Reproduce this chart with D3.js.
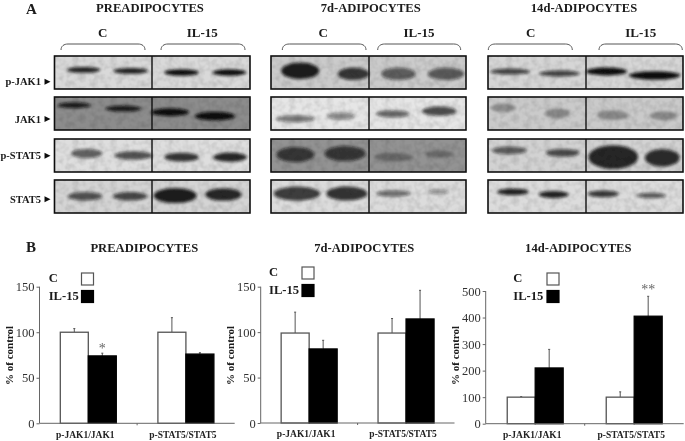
<!DOCTYPE html>
<html>
<head>
<meta charset="utf-8">
<script src="https://cdn.jsdelivr.net/npm/d3@7"></script>
<style>
  html, body { margin: 0; padding: 0; background: #fff; }
  svg { display: block; }
  text { font-family: "Liberation Serif", serif; }
  .head { font-weight: bold; fill: #1a1a1a; }
  .tick text { font-family: "Liberation Serif", serif; }
</style>
</head>
<body>
<svg id="chart" width="685" height="441"></svg>
<script>
// --- panel B values
const groups = ['p-JAK1/JAK1', 'p-STAT5/STAT5'];
const series = ['C', 'IL-15'];
const preValues = [[100, 74], [100, 76]];
const preErrors = [[104, 77], [116, 77.5]];
const d7Values = [[99, 81.5], [99, 114.5]];
const d7Errors = [[122, 91], [115, 146]];
const d14Values = [[100, 210], [100, 405]];
const d14Errors = [[102, 280], [120, 480]];

// --- panel A blots, one list per row: [lane x, band y, half width, half height, darkness], in % of the blot
const rowNames = ['p-JAK1', 'JAK1', 'p-STAT5', 'STAT5'];
const preBackgrounds = ['#d9d9d9', '#8c8c8c', '#dedede', '#d4d4d4'];
const d7Backgrounds = ['#cbcbcb', '#e6e6e6', '#939393', '#dcdcdc'];
const d14Backgrounds = ['#d6d6d6', '#cacaca', '#d2d2d2', '#dcdcdc'];
const preBands = [
  [[14.8, 42, 8.6, 9, .9], [39, 45, 8.9, 9, .9], [65, 50, 8.9, 10, 1], [89.4, 50, 8.6, 10, 1]],
  [[10, 25, 8.6, 9, .9], [35.3, 35, 9.3, 9, .9], [59.1, 46, 9.8, 12, 1], [82.1, 58, 10.3, 13, 1]],
  [[16.5, 44, 8, 14, .62], [40.4, 50, 9.8, 13, .68], [65, 55, 8.9, 13, .82], [89.8, 55, 8.6, 14, .88]],
  [[15.7, 49, 8.9, 13, .68], [38.7, 49, 8.9, 13, .72], [61.7, 47, 11, 23, .92], [86.4, 44, 9.3, 19, .88]]
];
const d7Bands = [
  [[15, 45, 9.8, 25, .92], [42.3, 54, 8.1, 19, .8], [65.4, 54, 8.9, 19, .6], [89.8, 54, 9.3, 19, .62]],
  [[12.5, 66, 9.8, 11, .52], [35.8, 58, 7.2, 11, .44], [62.5, 51, 8.6, 11, .6], [86.3, 43, 8.9, 14, .72]],
  [[12.5, 47, 9.8, 23, .72], [38, 44, 10.6, 23, .72], [62.8, 55, 9.8, 13, .3], [86.3, 46, 7.2, 11, .3]],
  [[13.3, 41, 12, 21, .78], [38.9, 41, 10.6, 21, .82], [62.8, 41, 8.9, 10, .55], [85.8, 36, 5.5, 8, .35]]
];
const d14Bands = [
  [[11.4, 47, 10.3, 9, .75], [36.6, 53, 10.6, 9, .75], [60.8, 47, 10.6, 12, 1], [85.5, 59, 13.2, 13, 1]],
  [[8, 33, 6.4, 13, .3], [35.6, 50, 6.4, 15, .32], [63.9, 55, 8.1, 15, .32], [90.1, 57, 7.2, 14, .32]],
  [[11, 35, 8.9, 12, .62], [38.3, 42, 8.6, 12, .7], [64.2, 55, 12.7, 36, .88], [89.4, 57, 8.9, 27, .85]],
  [[12.8, 36, 8.1, 10, .9], [33.6, 44, 7.6, 11, .9], [59.1, 42, 8.1, 10, .8], [83.8, 47, 7.6, 8, .65]]
];

const svg = d3.select('#chart');
const defs = svg.append('defs');

defs.append('filter').attr('id', 'soft').attr('x', '-40%').attr('y', '-120%').attr('width', '180%').attr('height', '340%')
  .append('feGaussianBlur').attr('stdDeviation', 1.8);
defs.append('filter').attr('id', 'print')
  .attr('filterUnits', 'userSpaceOnUse').attr('x', 0).attr('y', 0).attr('width', 685).attr('height', 441)
  .append('feGaussianBlur').attr('stdDeviation', 0.4);
let grain = defs.append('filter').attr('id', 'grain');
grain.append('feTurbulence').attr('type', 'fractalNoise').attr('baseFrequency', 0.16).attr('numOctaves', 2).attr('seed', 4);
grain.append('feColorMatrix').attr('values', '0 0 0 0 0  0 0 0 0 0  0 0 0 0 0  0.22 0 0 0 -0.08');
grain.append('feComposite').attr('in2', 'SourceAlpha').attr('operator', 'in');

const root = svg.append('g').attr('filter', 'url(#print)');

const rowTops = [56, 97, 139, 180];
const rowHeight = 33;

function blotSet(cfg) {
  let g = root.append('g');
  let sx = d3.scaleLinear().domain([0, 100]).range([0, cfg.width]);
  let sy = d3.scaleLinear().domain([0, 100]).range([0, rowHeight]);

  g.append('text').attr('class', 'head').attr('x', cfg.titleX).attr('y', 12)
    .attr('text-anchor', 'middle').style('font-size', '12.6px').text(cfg.title);

  series.forEach((s, i) => {
    g.append('text').attr('class', 'head').attr('x', cfg.headX[i]).attr('y', 37)
      .attr('text-anchor', 'middle').style('font-size', '13px').text(s);
    let [a, b] = cfg.brace[i];
    g.append('path').attr('fill', 'none').attr('stroke', '#444').attr('stroke-width', 0.9)
      .attr('d', `M${a},50 C${a},46 ${a + 3},44 ${a + 7},44 L${b - 7},44 C${b - 3},44 ${b},46 ${b},50`);
  });

  rowNames.forEach((name, r) => {
    let row = g.append('g').attr('transform', `translate(${cfg.x},${rowTops[r]})`);
    let clipId = `${cfg.id}-clip-${r}`;
    defs.append('clipPath').attr('id', clipId)
      .append('rect').attr('width', cfg.width).attr('height', rowHeight);
    let inner = row.append('g').attr('clip-path', `url(#${clipId})`);
    inner.append('rect').attr('width', cfg.width).attr('height', rowHeight).attr('fill', cfg.backgrounds[r]);
    inner.selectAll('ellipse').data(cfg.bands[r]).join('ellipse')
      .attr('cx', d => sx(d[0]))
      .attr('cy', d => sy(d[1]))
      .attr('rx', d => sx(d[2]))
      .attr('ry', d => sy(d[3]))
      .attr('fill', '#111')
      .attr('fill-opacity', d => d[4])
      .attr('filter', 'url(#soft)');
    inner.append('rect').attr('width', cfg.width).attr('height', rowHeight)
      .attr('fill', '#000').attr('filter', 'url(#grain)');
    row.append('rect').attr('width', cfg.width).attr('height', rowHeight)
      .attr('fill', 'none').attr('stroke', '#111').attr('stroke-width', 1.6);
    row.append('line').attr('x1', cfg.divider).attr('x2', cfg.divider)
      .attr('y1', 0).attr('y2', rowHeight).attr('stroke', '#111').attr('stroke-width', 1.4);
  });
}

blotSet({id: 'pre', title: 'PREADIPOCYTES', titleX: 150, x: 54.5, width: 195.5, divider: 97.5,
  headX: [102.7, 202.3], brace: [[61, 145], [161, 245]], backgrounds: preBackgrounds, bands: preBands});
blotSet({id: 'd7', title: '7d-ADIPOCYTES', titleX: 370.7, x: 271, width: 195, divider: 98,
  headX: [323.3, 419], brace: [[282.3, 366], [377.7, 460.7]], backgrounds: d7Backgrounds, bands: d7Bands});
blotSet({id: 'd14', title: '14d-ADIPOCYTES', titleX: 584, x: 488, width: 195, divider: 98,
  headX: [530.7, 640.7], brace: [[488.3, 572.3], [599, 682.3]], backgrounds: d14Backgrounds, bands: d14Bands});

// row labels with the little arrows
const rowLabelY = [81.7, 119, 155.7, 199.3];
rowNames.forEach((name, r) => {
  root.append('text').attr('class', 'head').attr('x', 41).attr('y', rowLabelY[r]).attr('dy', '0.35em')
    .attr('text-anchor', 'end').style('font-size', '10.5px').text(name);
  root.append('path').attr('fill', '#111')
    .attr('d', `M44.5,${rowLabelY[r] - 3}L50.5,${rowLabelY[r]}L44.5,${rowLabelY[r] + 3}Z`);
});

root.append('text').attr('class', 'head').attr('x', 26).attr('y', 14).style('font-size', '15px').text('A');
root.append('text').attr('class', 'head').attr('x', 26).attr('y', 251.5).style('font-size', '15px').text('B');

function barChart(cfg) {
  let g = root.append('g');
  let y = d3.scaleLinear().domain([0, cfg.max]).range([cfg.y0, cfg.y1]);
  let x0 = d3.scaleBand().domain(groups).range([cfg.x, cfg.x + cfg.step * 2]);
  let x1 = d3.scaleBand().domain(series).range([0, x0.bandwidth()])
    .paddingInner(0).paddingOuter(cfg.outer);

  g.append('text').attr('class', 'head').attr('x', cfg.titleX).attr('y', 251.5)
    .attr('text-anchor', 'middle').style('font-size', '12.6px').text(cfg.title);

  groups.forEach((name, i) => {
    let col = g.append('g').attr('transform', `translate(${x0(name)},0)`);
    let rows = series.map((s, j) => ({s: s, v: cfg.values[i][j], e: cfg.errors[i][j]}));
    col.selectAll('line.err').data(rows).join('line').attr('class', 'err')
      .attr('x1', d => x1(d.s) + x1.bandwidth() / 2)
      .attr('x2', d => x1(d.s) + x1.bandwidth() / 2)
      .attr('y1', d => y(d.v)).attr('y2', d => y(d.e))
      .attr('stroke', '#555').attr('stroke-width', 1);
    col.selectAll('line.cap').data(rows).join('line').attr('class', 'cap')
      .attr('x1', d => x1(d.s) + x1.bandwidth() / 2 - 1)
      .attr('x2', d => x1(d.s) + x1.bandwidth() / 2 + 1)
      .attr('y1', d => y(d.e)).attr('y2', d => y(d.e))
      .attr('stroke', '#555').attr('stroke-width', 1);
    col.selectAll('rect').data(rows).join('rect')
      .attr('x', d => x1(d.s))
      .attr('y', d => y(d.v))
      .attr('width', x1.bandwidth())
      .attr('height', d => y(0) - y(d.v))
      .attr('fill', d => d.s === 'C' ? '#fff' : '#000')
      .attr('stroke', d => d.s === 'C' ? '#555' : '#000')
      .attr('stroke-width', 1.3);
  });

  let yAxis = g.append('g').attr('transform', `translate(${cfg.x},0)`)
    .call(d3.axisLeft(y).tickValues(cfg.ticks).tickSize(3).tickPadding(2));
  yAxis.selectAll('path,line').attr('stroke', '#666').attr('stroke-width', 1);
  yAxis.selectAll('text').attr('fill', '#333').style('font-size', '12.5px');
  yAxis.select('.domain').attr('d', `M0,${y(0)}V${y(cfg.max)}`);

  let xAxis = g.append('g').attr('transform', `translate(0,${cfg.y0})`)
    .call(d3.axisBottom(x0).tickSize(0).tickPadding(0));
  xAxis.select('.domain').attr('stroke', '#666').attr('stroke-width', 1)
    .attr('d', `M${cfg.x},0H${cfg.x + cfg.step * 2}`);
  xAxis.selectAll('text').attr('fill', '#222').attr('dx', -3).attr('y', 7.5)
    .style('font-size', '9.5px').style('font-weight', 'bold');
  g.append('line').attr('x1', cfg.x + cfg.step).attr('x2', cfg.x + cfg.step)
    .attr('y1', cfg.y0).attr('y2', cfg.y0 + 2).attr('stroke', '#666');

  g.append('text').attr('class', 'head')
    .attr('transform', `translate(${cfg.labelX},355.5) rotate(-90)`)
    .attr('text-anchor', 'middle').style('font-size', '11px').text('% of control');

  // significance stars
  g.selectAll('text.star').data(cfg.stars).join('text').attr('class', 'star')
    .attr('x', d => x0(groups[d[0]]) + x1(series[d[1]]) + x1.bandwidth() / 2)
    .attr('y', d => y(cfg.errors[d[0]][d[1]]) + cfg.starDy)
    .attr('text-anchor', 'middle').attr('fill', '#666').style('font-size', '14px')
    .text(d => d[2]);

  // legend
  series.forEach((s, i) => {
    g.append('text').attr('class', 'head').attr('x', cfg.legendX).attr('y', cfg.legendY + 9 + i * 18.4)
      .style('font-size', '12.6px').text(s);
    g.append('rect').attr('x', cfg.legendBox).attr('y', cfg.legendY + i * 17.5).attr('width', 12).attr('height', 12)
      .attr('fill', i ? '#000' : '#fff').attr('stroke', i ? '#000' : '#555').attr('stroke-width', 1.2);
  });
}

barChart({title: 'PREADIPOCYTES', titleX: 144.3, x: 39.5, step: 97.6, outer: 0.743, max: 150, y0: 423.3, y1: 286.7,
  ticks: [0, 50, 100, 150], values: preValues, errors: preErrors, labelX: 13, stars: [[0, 1, '*']], starDy: 0,
  legendX: 48.7, legendY: 273, legendBox: 81.5});
barChart({title: '7d-ADIPOCYTES', titleX: 364.3, x: 260.7, step: 96.9, outer: 0.73, max: 150, y0: 423, y1: 286.7,
  ticks: [0, 50, 100, 150], values: d7Values, errors: d7Errors, labelX: 234, stars: [], starDy: 0,
  legendX: 269, legendY: 267, legendBox: 302});
barChart({title: '14d-ADIPOCYTES', titleX: 578.3, x: 485.7, step: 99, outer: 0.77, max: 500, y0: 423.7, y1: 291,
  ticks: [0, 100, 200, 300, 400, 500], values: d14Values, errors: d14Errors, labelX: 459, stars: [[1, 1, '**']], starDy: -2,
  legendX: 513.3, legendY: 273, legendBox: 547});
</script>
</body>
</html>
